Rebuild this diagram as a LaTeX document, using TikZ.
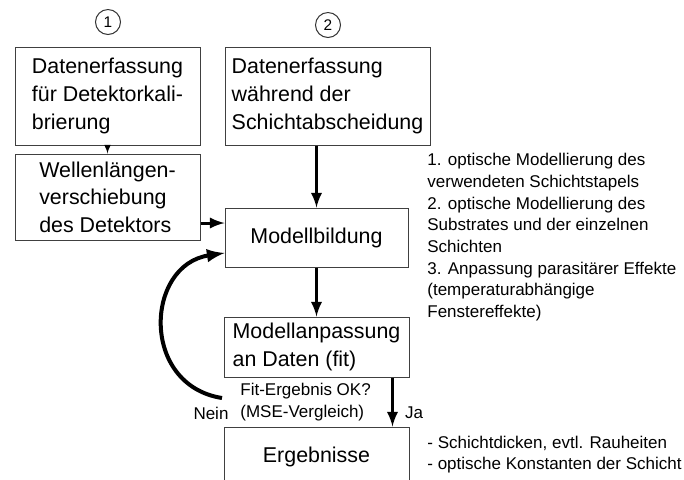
\documentclass[tikz,border=0pt]{standalone}
\usepackage{fontspec}
\setmainfont{Liberation Sans}
\usetikzlibrary{arrows}

\begin{document}
\begin{tikzpicture}[x=0.5pt, y=-0.5pt, >=latex,
	box/.style={draw=black!75, line width=0.5pt, inner sep=0pt, align=left, font=\fontsize{10.7}{13.8}\selectfont},
	note/.style={inner sep=0pt, align=left, font=\fontsize{8.5}{10.85}\selectfont},
	num/.style={draw=black!80, circle, line width=0.5pt, minimum size=12.5pt, inner sep=0pt, font=\fontsize{7.7}{9}\selectfont},
	flow/.style={->, line width=1.5pt}]
	\useasboundingbox (0, 0) rectangle (684, 479);

	\node[num] (eins) at (108, 22) {1};
	\node[num] (zwei) at (328, 25) {2};

	\node[box, minimum width=92.5pt, minimum height=49pt] (kalib) at (107.5, 96) {Datenerfassung\\für Detektorkali-\\brierung};
	\node[box, minimum width=92.5pt, minimum height=43pt] (wellen) at (107.5, 197) {Wellenlängen-\\verschiebung\\des Detektors};
	\node[box, minimum width=102.5pt, minimum height=49pt] (schicht) at (327.5, 96) {Datenerfassung\\während der\\Schichtabscheidung};
	\node[box, minimum width=91.5pt, minimum height=29.5pt] (model) at (316.5, 237.5) {Modellbildung};
	\node[box, minimum width=92.5pt, minimum height=30pt] (fit) at (316.5, 347) {Modellanpassung\\an Daten (fit)};
	\node[box, minimum width=92.5pt, minimum height=29.5pt] (result) at (316.5, 456.5) {Ergebnisse};

	\draw[->, line width=0.5pt] (kalib) -- (wellen);
	\draw[flow] (schicht.south -| model.north) -- (model.north);
	\draw[flow] ([yshift=-13pt]wellen.east) -- ([yshift=-13pt]wellen.east -| model.west);
	\draw[flow] (model) -- (fit);
	\draw[flow] ([xshift=-8.5pt]fit.south east) -- ([xshift=-8.5pt]result.north east);

	\coordinate (loop) at (222, 398);
	\draw[flow, line width=2pt] (loop) .. controls (140, 385) and (145, 265) .. ([yshift=-7.75pt]model.west);

	\node[note, anchor=west, font=\fontsize{8.5}{10.7}\selectfont] (fitok) at (240, 402) {Fit-Ergebnis OK?\\(MSE-Vergleich)};
	\node[note] (nein) at (211, 413) {Nein};
	\node[note] (ja) at (414, 413) {Ja};

	\node[note, anchor=north west] (modnote) at (427, 153) {1. optische Modellierung des\\verwendeten Schichtstapels\\2. optische Modellierung des\\Substrates und der einzelnen\\Schichten\\3. Anpassung parasitärer Effekte\\(temperaturabhängige\\Fenstereffekte)};
	\node[note, anchor=north west, font=\fontsize{8.5}{10.4}\selectfont] (resnote) at (427, 436) {- Schichtdicken, evtl. Rauheiten\\- optische Konstanten der Schicht};
\end{tikzpicture}
\end{document}
